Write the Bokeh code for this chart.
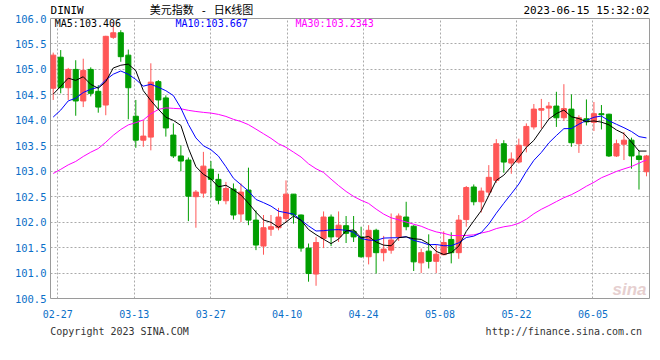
import pandas as pd
from bokeh.plotting import figure
from bokeh.models import (Range1d, FixedTicker, Label, ColumnDataSource, PrintfTickFormatter,
                          LinearAxis)
from bokeh.embed import file_html
from bokeh.resources import INLINE

# ---- data (US Dollar Index DINIW, daily) ----
prior_close = [102.20, 102.37, 102.36, 102.06, 101.99, 102.13, 101.92, 101.63, 101.83, 101.93,
               102.27, 102.10, 101.21, 101.75, 102.92, 103.62, 103.43, 103.43, 103.25, 103.63,
               103.27, 103.20, 103.85, 103.86, 103.89, 103.87, 104.20, 104.60, 104.62]

open_ = [104.63, 105.24, 104.64, 105.00, 104.38, 105.00, 104.57, 104.30, 105.63, 105.72,
         105.28, 104.08, 103.61, 103.67, 104.76, 104.44, 103.71, 103.30, 103.22, 102.50,
         102.57, 103.04, 102.84, 102.42, 102.65, 102.16, 102.63, 102.04, 101.53, 101.86,
         101.89, 102.07, 102.55, 102.14, 101.49, 100.98, 101.68, 102.10, 101.71, 101.93,
         101.82, 101.71, 101.32, 101.84, 101.40, 101.45, 101.71, 102.10, 101.92, 101.20,
         101.43, 101.23, 101.36, 101.66, 101.40, 102.05, 102.69, 102.40, 102.59, 102.82,
         103.54, 103.16, 103.18, 103.50, 103.87, 104.20, 104.24, 104.28, 104.05, 104.22,
         103.54, 104.03, 103.96, 104.13, 104.12, 103.30, 103.53, 103.61, 103.30, 102.99]
high = [105.33, 105.38, 105.03, 105.18, 105.21, 105.04, 104.69, 105.66, 105.93, 105.77,
        105.39, 104.40, 104.00, 105.12, 104.79, 104.49, 103.94, 103.51, 103.27, 102.63,
        103.38, 103.20, 102.95, 102.79, 102.76, 102.76, 103.07, 102.23, 102.14, 102.14,
        102.28, 102.82, 102.55, 102.15, 101.58, 101.71, 102.21, 102.15, 102.21, 102.12,
        102.12, 101.91, 101.94, 101.87, 101.73, 102.17, 102.17, 102.40, 101.94, 101.48,
        101.76, 101.55, 101.82, 101.80, 102.14, 102.71, 102.74, 102.68, 103.12, 103.63,
        103.61, 103.37, 103.64, 103.94, 104.32, 104.42, 104.36, 104.56, 104.71, 104.51,
        104.10, 104.41, 104.36, 104.30, 104.13, 103.62, 103.77, 103.66, 103.40, 103.32]
low = [104.40, 104.53, 104.40, 104.09, 104.26, 104.47, 104.15, 104.10, 105.60, 105.15,
       104.02, 103.46, 103.48, 103.41, 104.20, 103.68, 103.26, 103.00, 102.02, 101.89,
       102.48, 102.48, 102.35, 102.35, 102.05, 102.00, 101.94, 101.45, 101.36, 101.73,
       101.84, 102.00, 101.97, 101.42, 100.83, 100.75, 101.49, 101.53, 101.61, 101.59,
       101.61, 101.30, 101.17, 100.99, 101.23, 101.38, 101.63, 101.84, 101.04, 101.00,
       101.09, 101.00, 101.35, 101.19, 101.28, 101.91, 102.33, 102.19, 102.52, 102.77,
       102.97, 102.95, 103.15, 103.37, 103.82, 103.84, 104.03, 103.87, 103.99, 103.48,
       103.36, 103.90, 103.79, 103.82, 103.28, 103.28, 103.22, 103.05, 102.64, 102.90]
close = [105.28, 104.64, 105.00, 104.38, 104.98, 104.53, 104.26, 105.65, 105.72, 105.25,
         104.64, 103.61, 103.69, 104.75, 104.40, 103.85, 103.30, 103.20, 102.51, 102.59,
         103.10, 102.84, 102.43, 102.66, 102.14, 102.59, 102.04, 101.55, 101.89, 101.91,
         102.10, 102.55, 102.14, 101.49, 100.99, 101.60, 102.10, 101.71, 101.94, 101.78,
         101.71, 101.32, 101.84, 101.40, 101.47, 101.65, 102.12, 101.91, 101.22, 101.40,
         101.23, 101.37, 101.60, 101.40, 102.04, 102.68, 102.40, 102.61, 102.88, 103.54,
         103.18, 103.24, 103.51, 103.88, 104.22, 104.23, 104.28, 104.05, 104.23, 103.56,
         104.05, 103.97, 104.13, 104.11, 103.30, 103.54, 103.61, 103.30, 103.23, 103.30]

x_labels = ["02-27", "03-13", "03-27", "04-10", "04-24", "05-08", "05-22", "06-05"]
y_ticks = [100.5, 101.0, 101.5, 102.0, 102.5, 103.0, 103.5, 104.0, 104.5, 105.0, 105.5, 106.0]
ma_texts = ["MA5:103.406", "MA10:103.667", "MA30:103.2343"]
header_texts = ["DINIW", "美元指数 - 日K线图", "2023-06-15 15:32:02"]
footer_texts = ["Copyright 2023 SINA.COM", "http://finance.sina.com.cn"]

# ---- derived ----
dates = pd.bdate_range("2023-02-24", "2023-06-15")
n = len(close)
idx = list(range(n))
allc = pd.Series(prior_close + close)
ma5 = allc.rolling(5).mean().tolist()[len(prior_close):]
ma10 = allc.rolling(10).mean().tolist()[len(prior_close):]
ma30 = allc.rolling(30).mean().tolist()[len(prior_close):]

UP, DOWN = "#ff5757", "#009e00"
colors = [UP if c >= o else DOWN for o, c in zip(open_, close)]
src = ColumnDataSource(dict(
    x=idx, o=open_, h=high, l=low, c=close,
    top=[max(o, c) for o, c in zip(open_, close)],
    bottom=[min(o, c) for o, c in zip(open_, close)],
    color=colors))

BLUE = "#0b6fc8"
MONO = "DejaVu Sans Mono"

p = figure(width=656, height=350, x_range=Range1d(-0.36, 79.4), y_range=Range1d(100.5, 106.0),
           output_backend="svg", toolbar_location=None,
           min_border_left=50, min_border_right=7, min_border_top=18, min_border_bottom=52)
p.background_fill_color = "white"
p.border_fill_color = "white"
p.outline_line_color = "#9a9a9a"
p.outline_line_width = 1

xa = p.xaxis[0]
ya = p.yaxis[0]

# main axes
grid_step = 10.18
tick_pos = [0.61 + grid_step * k for k in range(len(x_labels))]
xa.ticker = FixedTicker(ticks=tick_pos)
xa.major_label_overrides = {t: lab for t, lab in zip(tick_pos, x_labels)}
ya.ticker = FixedTicker(ticks=y_ticks)
ya.formatter = PrintfTickFormatter(format="%.1f")


def style_axis(ax, color, size, standoff, font=MONO):
    ax.axis_line_color = None
    ax.major_tick_line_color = None
    ax.minor_tick_line_color = None
    ax.major_tick_out = 0
    ax.major_tick_in = 0
    ax.major_label_text_font = font
    ax.major_label_text_color = color
    ax.major_label_text_font_size = size
    ax.major_label_standoff = standoff


style_axis(xa, BLUE, "10px", 11)
style_axis(ya, BLUE, "10.5px", 4)

p.xgrid.grid_line_color = "#aaaaaa"
p.xgrid.grid_line_dash = "2 2"
p.ygrid.grid_line_color = "#aaaaaa"
p.ygrid.grid_line_dash = "2 2"

# header line (above the frame) and footer line (below the dates), as extra axes
header_pos = [1.86, 19.75, 71.0]
top_ax = LinearAxis(ticker=FixedTicker(ticks=header_pos),
                    major_label_overrides={t: s for t, s in zip(header_pos, header_texts)})
style_axis(top_ax, "#000000", "11px", 2, font="'DejaVu Sans Mono', 'Noto Sans CJK SC'")
p.add_layout(top_ax, "above")

footer_pos = [8.83, 68.0]
bot_ax = LinearAxis(ticker=FixedTicker(ticks=footer_pos),
                    major_label_overrides={t: s for t, s in zip(footer_pos, footer_texts)})
style_axis(bot_ax, "#333333", "10px", 5)
p.add_layout(bot_ax, "below")

# candles
p.segment(x0="x", y0="l", x1="x", y1="h", color="color", line_width=1, source=src)
p.vbar(x="x", top="top", bottom="bottom", width=0.68, fill_color="color",
       line_color="color", line_width=1, source=src)

# moving averages
p.line(idx, ma30, color="#ff00ff", line_width=1)
p.line(idx, ma10, color="#0000ff", line_width=1)
p.line(idx, ma5, color="#000000", line_width=1)


def lab(x, y, text, color="black", size="10px", font=MONO, align="left", style="normal"):
    p.add_layout(Label(x=x, y=y, x_units="screen", y_units="screen", text=text,
                       text_color=color, text_font_size=size, text_font=font,
                       text_align=align, text_baseline="middle", text_font_style=style))


lab(4.3, 274.8, ma_texts[0], color="#000000")
lab(125, 274.8, ma_texts[1], color="#0000ff")
lab(245, 274.8, ma_texts[2], color="#ff00ff")
lab(596, 9, "sina", color="#e6cfcf", size="17px", font="Liberation Sans",
    align="right", style="bold italic")

open("out.html", "w").write(file_html(p, INLINE))
